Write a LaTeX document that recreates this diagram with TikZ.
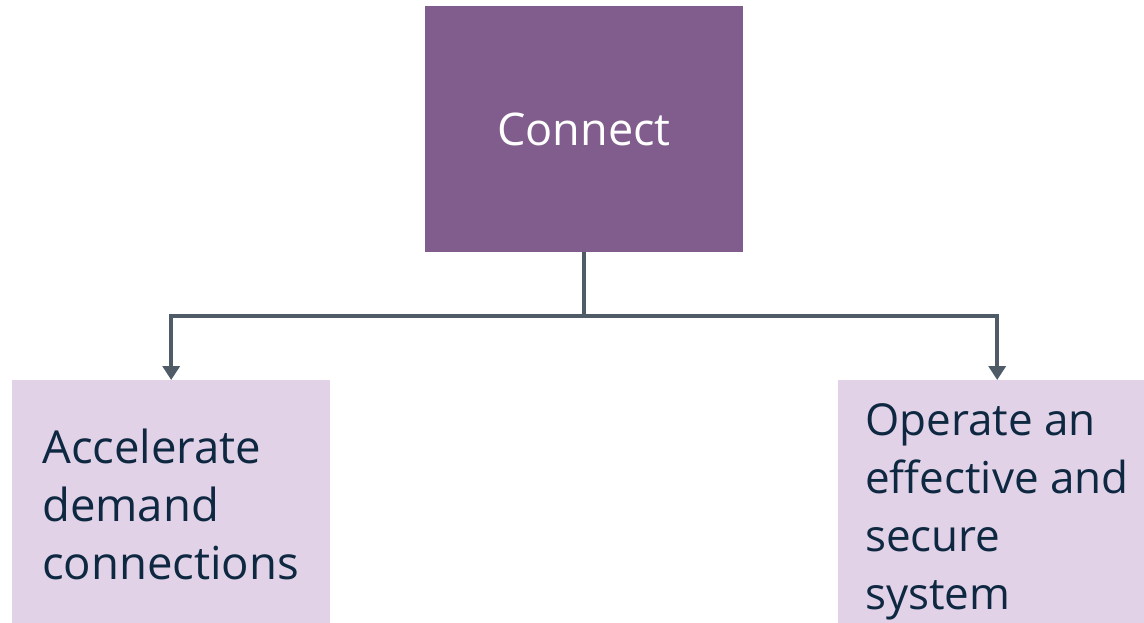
\documentclass[tikz,border=0pt]{standalone}
\usepackage{fontspec}
\setmainfont{Open Sans}
\usetikzlibrary{arrows.meta}
\definecolor{topfill}{HTML}{815D8D}
\definecolor{boxfill}{HTML}{E1D2E7}
\definecolor{connc}{HTML}{4F5B67}
\definecolor{txtc}{HTML}{0E2841}
\tikzset{
  topbox/.style={fill=topfill,draw=none,minimum width=318pt,minimum height=246pt,inner sep=0pt,text=white,font=\fontsize{45}{53}\selectfont},
  leafbox/.style={fill=boxfill,draw=none,minimum width=318pt,minimum height=260pt,inner sep=0pt,anchor=north west},
  leaftext/.style={text=txtc,align=left,anchor=north west,inner sep=0pt,font=\fontsize{44}{58}\selectfont},
  conn/.style={draw=connc,line width=4pt,-{Triangle[width=17pt,length=14pt]}}
}
\begin{document}
\begin{tikzpicture}[x=1pt,y=-1pt]
\useasboundingbox (0,0) rectangle (1144,623);
\clip (0,0) rectangle (1144,623);
\fill[white] (0,0) rectangle (1144,623);
\node[topbox] (top) at (584,129) {Connect};
\node[leafbox] (left) at (12,380) {};
\node[leafbox] (right) at (838,380) {};
\node[leaftext,font=\fontsize{45.5}{58}\selectfont] (lt) at (42,429) {Accelerate\\demand\\connections};
\node[leaftext] (rt) at (865,403) {Operate an\\effective and\\secure\\system};
\coordinate (split) at ([yshift=-64pt]top.south);
\draw[conn] (top.south) -- (split) -| (left.north);
\draw[conn] (split) -| (right.north);
\end{tikzpicture}
\end{document}
